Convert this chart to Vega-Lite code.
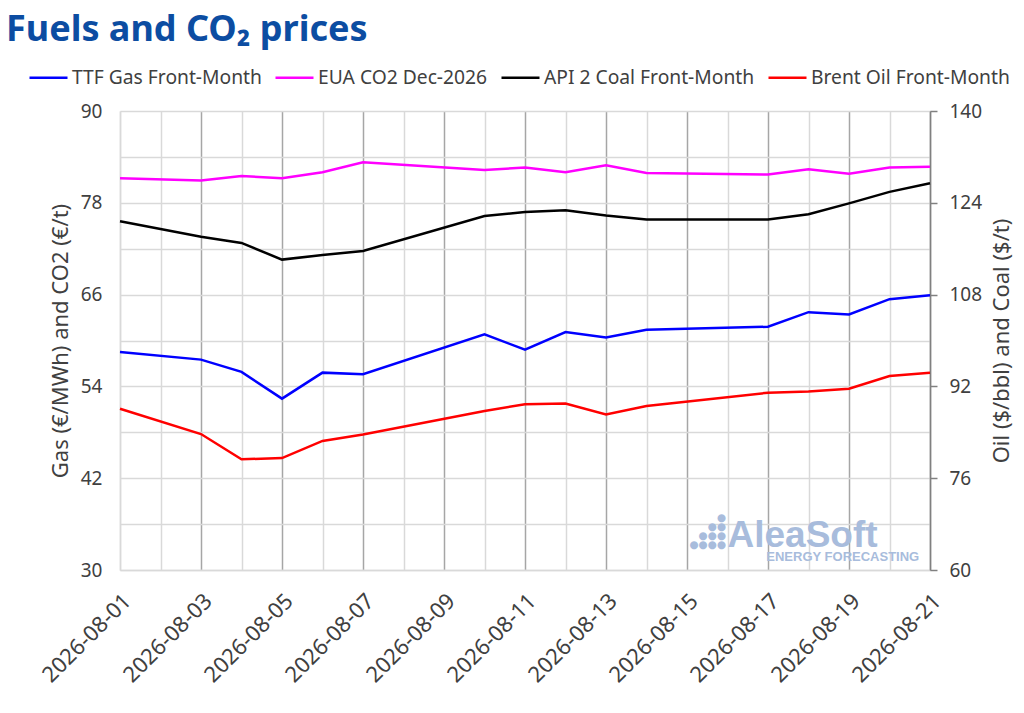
{
  "$schema": "https://vega.github.io/schema/vega-lite/v6.json",
  "width": 810,
  "height": 459,
  "autosize": {"type": "none"},
  "padding": {"left": 120, "top": 111, "right": 94, "bottom": 143},
  "background": "white",
  "config": {
    "view": {"stroke": null},
    "font": "Noto Sans",
    "axis": {"labelFont": "Noto Sans", "titleFont": "Noto Sans", "labelColor": "#404040", "titleColor": "#404040", "labelFontSize": 19, "titleFontSize": 22, "titleFontWeight": "normal"},
    "legend": {"labelFont": "Noto Sans"}
  },
  "title": {
    "text": "Fuels and CO₂ prices",
    "anchor": "start",
    "frame": "group",
    "font": "Noto Sans",
    "fontSize": 36,
    "fontWeight": "bold",
    "color": "#0c4da2",
    "dx": -114,
    "offset": 8
  },
  "data": {
    "values": [
      {"d": "2026-08-01", "s": "TTF Gas Front-Month", "v": 58.5, "g": "L"},
      {"d": "2026-08-03", "s": "TTF Gas Front-Month", "v": 57.5, "g": "L"},
      {"d": "2026-08-04", "s": "TTF Gas Front-Month", "v": 55.9, "g": "L"},
      {"d": "2026-08-05", "s": "TTF Gas Front-Month", "v": 52.4, "g": "L"},
      {"d": "2026-08-06", "s": "TTF Gas Front-Month", "v": 55.8, "g": "L"},
      {"d": "2026-08-07", "s": "TTF Gas Front-Month", "v": 55.6, "g": "L"},
      {"d": "2026-08-10", "s": "TTF Gas Front-Month", "v": 60.8, "g": "L"},
      {"d": "2026-08-11", "s": "TTF Gas Front-Month", "v": 58.8, "g": "L"},
      {"d": "2026-08-12", "s": "TTF Gas Front-Month", "v": 61.1, "g": "L"},
      {"d": "2026-08-13", "s": "TTF Gas Front-Month", "v": 60.4, "g": "L"},
      {"d": "2026-08-14", "s": "TTF Gas Front-Month", "v": 61.4, "g": "L"},
      {"d": "2026-08-17", "s": "TTF Gas Front-Month", "v": 61.8, "g": "L"},
      {"d": "2026-08-18", "s": "TTF Gas Front-Month", "v": 63.7, "g": "L"},
      {"d": "2026-08-19", "s": "TTF Gas Front-Month", "v": 63.4, "g": "L"},
      {"d": "2026-08-20", "s": "TTF Gas Front-Month", "v": 65.4, "g": "L"},
      {"d": "2026-08-21", "s": "TTF Gas Front-Month", "v": 65.9, "g": "L"},
      {"d": "2026-08-01", "s": "EUA CO2 Dec-2026", "v": 81.2, "g": "L"},
      {"d": "2026-08-03", "s": "EUA CO2 Dec-2026", "v": 80.9, "g": "L"},
      {"d": "2026-08-04", "s": "EUA CO2 Dec-2026", "v": 81.5, "g": "L"},
      {"d": "2026-08-05", "s": "EUA CO2 Dec-2026", "v": 81.2, "g": "L"},
      {"d": "2026-08-06", "s": "EUA CO2 Dec-2026", "v": 82.0, "g": "L"},
      {"d": "2026-08-07", "s": "EUA CO2 Dec-2026", "v": 83.3, "g": "L"},
      {"d": "2026-08-10", "s": "EUA CO2 Dec-2026", "v": 82.3, "g": "L"},
      {"d": "2026-08-11", "s": "EUA CO2 Dec-2026", "v": 82.6, "g": "L"},
      {"d": "2026-08-12", "s": "EUA CO2 Dec-2026", "v": 82.0, "g": "L"},
      {"d": "2026-08-13", "s": "EUA CO2 Dec-2026", "v": 82.9, "g": "L"},
      {"d": "2026-08-14", "s": "EUA CO2 Dec-2026", "v": 81.9, "g": "L"},
      {"d": "2026-08-17", "s": "EUA CO2 Dec-2026", "v": 81.7, "g": "L"},
      {"d": "2026-08-18", "s": "EUA CO2 Dec-2026", "v": 82.4, "g": "L"},
      {"d": "2026-08-19", "s": "EUA CO2 Dec-2026", "v": 81.8, "g": "L"},
      {"d": "2026-08-20", "s": "EUA CO2 Dec-2026", "v": 82.6, "g": "L"},
      {"d": "2026-08-21", "s": "EUA CO2 Dec-2026", "v": 82.7, "g": "L"},
      {"d": "2026-08-01", "s": "API 2 Coal Front-Month", "v": 120.8, "g": "R"},
      {"d": "2026-08-03", "s": "API 2 Coal Front-Month", "v": 118.1, "g": "R"},
      {"d": "2026-08-04", "s": "API 2 Coal Front-Month", "v": 117.0, "g": "R"},
      {"d": "2026-08-05", "s": "API 2 Coal Front-Month", "v": 114.1, "g": "R"},
      {"d": "2026-08-06", "s": "API 2 Coal Front-Month", "v": 114.9, "g": "R"},
      {"d": "2026-08-07", "s": "API 2 Coal Front-Month", "v": 115.6, "g": "R"},
      {"d": "2026-08-10", "s": "API 2 Coal Front-Month", "v": 121.7, "g": "R"},
      {"d": "2026-08-11", "s": "API 2 Coal Front-Month", "v": 122.4, "g": "R"},
      {"d": "2026-08-12", "s": "API 2 Coal Front-Month", "v": 122.7, "g": "R"},
      {"d": "2026-08-13", "s": "API 2 Coal Front-Month", "v": 121.8, "g": "R"},
      {"d": "2026-08-14", "s": "API 2 Coal Front-Month", "v": 121.1, "g": "R"},
      {"d": "2026-08-17", "s": "API 2 Coal Front-Month", "v": 121.1, "g": "R"},
      {"d": "2026-08-18", "s": "API 2 Coal Front-Month", "v": 122.0, "g": "R"},
      {"d": "2026-08-19", "s": "API 2 Coal Front-Month", "v": 123.9, "g": "R"},
      {"d": "2026-08-20", "s": "API 2 Coal Front-Month", "v": 125.9, "g": "R"},
      {"d": "2026-08-21", "s": "API 2 Coal Front-Month", "v": 127.4, "g": "R"},
      {"d": "2026-08-01", "s": "Brent Oil Front-Month", "v": 88.1, "g": "R"},
      {"d": "2026-08-03", "s": "Brent Oil Front-Month", "v": 83.7, "g": "R"},
      {"d": "2026-08-04", "s": "Brent Oil Front-Month", "v": 79.3, "g": "R"},
      {"d": "2026-08-05", "s": "Brent Oil Front-Month", "v": 79.5, "g": "R"},
      {"d": "2026-08-06", "s": "Brent Oil Front-Month", "v": 82.5, "g": "R"},
      {"d": "2026-08-07", "s": "Brent Oil Front-Month", "v": 83.6, "g": "R"},
      {"d": "2026-08-10", "s": "Brent Oil Front-Month", "v": 87.7, "g": "R"},
      {"d": "2026-08-11", "s": "Brent Oil Front-Month", "v": 88.9, "g": "R"},
      {"d": "2026-08-12", "s": "Brent Oil Front-Month", "v": 89.0, "g": "R"},
      {"d": "2026-08-13", "s": "Brent Oil Front-Month", "v": 87.1, "g": "R"},
      {"d": "2026-08-14", "s": "Brent Oil Front-Month", "v": 88.6, "g": "R"},
      {"d": "2026-08-17", "s": "Brent Oil Front-Month", "v": 90.9, "g": "R"},
      {"d": "2026-08-18", "s": "Brent Oil Front-Month", "v": 91.1, "g": "R"},
      {"d": "2026-08-19", "s": "Brent Oil Front-Month", "v": 91.6, "g": "R"},
      {"d": "2026-08-20", "s": "Brent Oil Front-Month", "v": 93.8, "g": "R"},
      {"d": "2026-08-21", "s": "Brent Oil Front-Month", "v": 94.4, "g": "R"}
    ]
  },
  "encoding": {
    "x": {
      "field": "d",
      "type": "temporal",
      "title": null,
      "scale": {"type": "utc", "domain": [{"year": 2026, "month": 8, "date": 1, "utc": true}, {"year": 2026, "month": 8, "date": 21, "utc": true}]},
      "axis": {
        "tickCount": {"interval": "day", "step": 1},
        "labelExpr": "utcdate(datum.value) % 2 == 1 ? utcFormat(datum.value, '%Y-%m-%d') : ''",
        "labelAngle": -45,
        "labelOverlap": false,
        "labelFontSize": 22,
        "labelPadding": 20,
        "ticks": false,
        "grid": true,
        "gridColor": {"condition": {"test": "utcdate(datum.value) % 2 == 1 && utcdate(datum.value) > 1", "value": "#a6a6a6"}, "value": "#d9d9d9"},
        "gridWidth": 1.5,
        "domainColor": "#d9d9d9",
        "domainWidth": 1.5
      }
    }
  },
  "layer": [
    {
      "layer": [
        {
          "transform": [{"filter": "datum.g == 'L' && datum.v == 58.5"}],
          "mark": {"type": "text", "text": ["●", "●●", "●●●", "●●●●"], "font": "DejaVu Sans", "fontSize": 10.5, "lineHeight": 9, "align": "right", "baseline": "bottom", "color": "#a8bcdc"},
          "encoding": {
            "x": {"datum": {"year": 2026, "month": 8, "date": 15, "hours": 23, "utc": true}, "type": "temporal"},
            "y": {"datum": 36.2, "type": "quantitative"}
          }
        },
        {
          "transform": [{"filter": "datum.g == 'L' && datum.v == 58.5"}],
          "mark": {"type": "text", "text": "AleaSoft", "font": "Liberation Sans", "fontWeight": "bold", "fontSize": 37, "align": "left", "baseline": "alphabetic", "color": "#a8bcdc"},
          "encoding": {
            "x": {"datum": {"year": 2026, "month": 8, "date": 16, "utc": true}, "type": "temporal"},
            "y": {"datum": 33, "type": "quantitative"}
          }
        },
        {
          "transform": [{"filter": "datum.g == 'L' && datum.v == 58.5"}],
          "mark": {"type": "text", "text": "ENERGY FORECASTING", "font": "Liberation Sans", "fontWeight": "bold", "fontSize": 13, "align": "left", "baseline": "alphabetic", "color": "#a8bcdc"},
          "encoding": {
            "x": {"datum": {"year": 2026, "month": 8, "date": 16, "hours": 23, "utc": true}, "type": "temporal"},
            "y": {"datum": 31.2, "type": "quantitative"}
          }
        },
        {
          "transform": [{"filter": "datum.g == 'L'"}],
          "mark": {"type": "line", "strokeWidth": 2.5},
          "encoding": {
            "y": {
              "field": "v",
              "type": "quantitative",
              "scale": {"domain": [30, 90], "nice": false, "zero": false},
              "axis": {
                "title": "Gas (€/MWh) and CO2 (€/t)",
                "values": [30, 36, 42, 48, 54, 60, 66, 72, 78, 84, 90],
                "labelExpr": "(datum.value - 30) % 12 == 0 ? datum.label : ''",
                "ticks": false,
                "grid": true,
                "gridColor": "#d9d9d9",
                "gridWidth": 1.5,
                "domainColor": "#d9d9d9",
                "domainWidth": 1.5,
                "labelPadding": 18,
                "titlePadding": 8
              }
            },
            "color": {
              "field": "s",
              "type": "nominal",
              "scale": {
                "domain": ["TTF Gas Front-Month", "EUA CO2 Dec-2026", "API 2 Coal Front-Month", "Brent Oil Front-Month"],
                "range": ["#0000ff", "#ff00ff", "#000000", "#ff0000"]
              },
              "legend": {
                "title": null,
                "orient": "none",
                "direction": "horizontal",
                "legendX": -92,
                "legendY": -54,
                "symbolType": "stroke",
                "symbolSize": 1444,
                "symbolStrokeWidth": 2.5,
                "labelFontSize": 19.25,
                "labelLimit": 400,
                "labelColor": "#404040",
                "labelOffset": 3,
                "columnPadding": 8
              }
            }
          }
        }
      ]
    },
    {
      "transform": [{"filter": "datum.g == 'R'"}],
      "mark": {"type": "line", "strokeWidth": 2.5},
      "encoding": {
        "y": {
          "field": "v",
          "type": "quantitative",
          "scale": {"domain": [60, 140], "nice": false, "zero": false},
          "axis": {
            "orient": "right",
            "title": "Oil ($/bbl) and Coal ($/t)",
            "titleAngle": 270,
            "values": [60, 76, 92, 108, 124, 140],
            "grid": false,
            "ticks": true,
            "tickSize": 7,
            "tickColor": "#808080",
            "tickWidth": 1.5,
            "domainColor": "#808080",
            "domainWidth": 1.5,
            "labelPadding": 12,
            "titlePadding": 32
          }
        },
        "color": {"field": "s", "type": "nominal"}
      }
    }
  ],
  "resolve": {"scale": {"y": "independent"}}
}
